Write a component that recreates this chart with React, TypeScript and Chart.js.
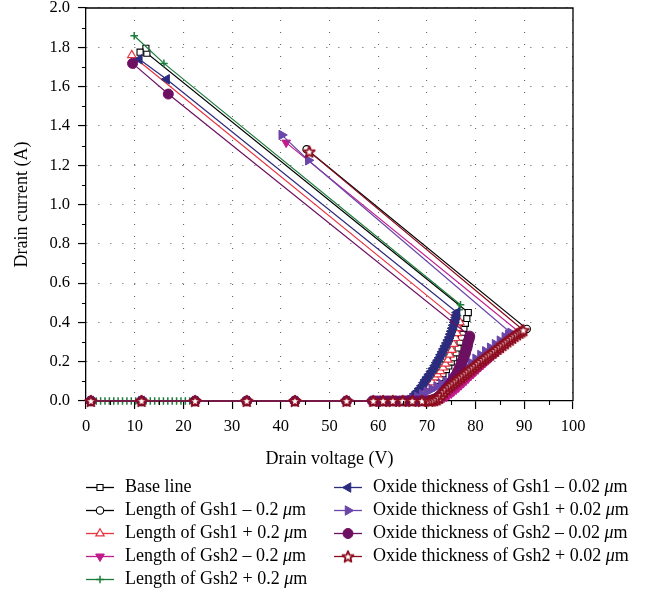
import React, { useEffect, useRef } from 'react';
import { Chart, registerables } from 'chart.js';

Chart.register(...registerables);

const SERIF = "'Liberation Serif', 'Times New Roman', 'DejaVu Serif', serif";

// Axis ticks
const xTickValues = [0, 10, 20, 30, 40, 50, 60, 70, 80, 90, 100];
const yTickValues = [0, 0.2, 0.4, 0.6, 0.8, 1.0, 1.2, 1.4, 1.6, 1.8, 2.0];

// Off-state part of the sweep shared by most runs (drain current stays at zero)
const offStateV = [1.0, 11.4, 22.4, 33.0, 42.9, 53.5];
const offStateI = [0, 0, 0, 0, 0, 0];

// Base line
const baseLineV = [59.0, 60.5, 62.0, 63.5, 65.0, 66.0, 67.0, 68.0, 69.0, 70.0, 71.0, 72.0, 72.7, 73.3, 74.0, 74.5, 75.0, 75.5, 76.0, 76.4, 76.8, 77.1, 77.4, 77.6, 77.9, 78.2, 78.5, 12.5, 12.3, 11.1];
const baseLineI = [0, 0, 0, 0, 0, 0.003, 0.01, 0.025, 0.045, 0.065, 0.085, 0.105, 0.12, 0.14, 0.16, 0.178, 0.198, 0.22, 0.245, 0.27, 0.30, 0.325, 0.35, 0.37, 0.395, 0.42, 0.45, 1.77, 1.795, 1.775];

// Length of Gsh1 - 0.2 um
const gsh1ShortV = [59.0, 61.0, 63.0, 65.0, 67.0, 69.0, 71.0, 71.5, 72.0, 72.5, 73.0, 73.5, 74.0, 74.5, 75.0, 75.5, 76.0, 76.5, 77.0, 77.5, 78.0, 78.5, 79.0, 79.5, 80.0, 80.5, 81.0, 81.5, 82.0, 82.5, 83.0, 83.5, 84.0, 84.5, 85.0, 85.5, 86.0, 86.5, 87.0, 87.5, 88.0, 88.5, 89.0, 89.5, 90.0, 90.5, 45.3];
const gsh1ShortI = [0, 0, 0, 0, 0, 0, 0, 0.004, 0.012, 0.02, 0.03, 0.04, 0.05, 0.061, 0.072, 0.082, 0.093, 0.103, 0.113, 0.123, 0.133, 0.143, 0.153, 0.163, 0.173, 0.183, 0.193, 0.202, 0.212, 0.221, 0.231, 0.24, 0.25, 0.26, 0.27, 0.279, 0.289, 0.298, 0.308, 0.317, 0.327, 0.336, 0.345, 0.352, 0.36, 0.367, 1.281];

// Length of Gsh1 + 0.2 um
const gsh1LongV = [59.0, 60.5, 62.0, 63.5, 65.0, 66.0, 67.0, 68.0, 69.0, 69.9, 70.5, 71.1, 71.7, 72.2, 72.8, 73.3, 73.8, 74.3, 74.7, 75.1, 75.5, 75.9, 76.2, 76.5, 76.8, 9.4];
const gsh1LongI = [0, 0, 0, 0, 0, 0.003, 0.01, 0.025, 0.04, 0.056, 0.075, 0.095, 0.12, 0.135, 0.152, 0.17, 0.19, 0.21, 0.235, 0.26, 0.29, 0.32, 0.345, 0.37, 0.40, 1.76];

// Length of Gsh2 - 0.2 um
const gsh2ShortV = [59.0, 61.0, 63.0, 65.0, 67.0, 69.0, 71.0, 71.5, 72.0, 72.5, 73.0, 73.5, 74.0, 74.5, 75.0, 75.5, 76.0, 76.5, 77.0, 77.5, 78.0, 78.5, 79.0, 79.5, 80.0, 80.5, 81.0, 81.5, 82.0, 82.5, 83.0, 83.5, 84.0, 84.5, 85.0, 85.5, 86.0, 86.5, 87.0, 87.5, 88.0, 88.5, 89.0, 41.1];
const gsh2ShortI = [0, 0, 0, 0, 0, 0, 0, 0.001, 0.003, 0.006, 0.01, 0.016, 0.022, 0.03, 0.038, 0.048, 0.058, 0.069, 0.08, 0.091, 0.103, 0.115, 0.127, 0.138, 0.15, 0.161, 0.173, 0.184, 0.196, 0.207, 0.218, 0.229, 0.24, 0.251, 0.262, 0.273, 0.284, 0.295, 0.306, 0.316, 0.327, 0.338, 0.35, 1.315];

// Length of Gsh2 + 0.2 um (finer steps in the first part of the sweep)
const gsh2LongV = [1.2, 2.1, 3.0, 3.9, 4.8, 5.7, 6.6, 7.5, 8.4, 9.3, 10.2, 11.1, 12.3, 13.2, 14.1, 15.0, 15.9, 16.8, 17.7, 18.6, 19.5, 20.4, 21.3, 32.2, 42.3, 52.8, 58.7, 60.0, 61.5, 63.0, 64.5, 66.0, 66.5, 67.2, 67.9, 68.6, 69.3, 70.0, 70.6, 71.3, 72.0, 72.7, 73.4, 74.0, 74.6, 75.1, 75.5, 75.9, 76.3, 76.6, 76.9, 16.0, 9.9];
const gsh2LongI = [0, 0, 0, 0, 0, 0, 0, 0, 0, 0, 0, 0, 0, 0, 0, 0, 0, 0, 0, 0, 0, 0, 0, 0, 0, 0, 0, 0, 0, 0, 0, 0, 0.005, 0.02, 0.04, 0.06, 0.08, 0.1, 0.12, 0.145, 0.17, 0.2, 0.235, 0.27, 0.305, 0.335, 0.365, 0.4, 0.435, 0.465, 0.49, 1.718, 1.859];

// Oxide thickness of Gsh1 - 0.02 um
const oxide1ThinV = [59.0, 60.5, 62.0, 63.5, 64.5, 65.5, 65.9, 66.2, 66.6, 67.0, 67.5, 68.0, 68.5, 69.0, 69.4, 69.7, 70.1, 70.5, 70.9, 71.3, 71.7, 72.0, 72.3, 72.6, 72.9, 73.2, 73.5, 73.8, 74.1, 74.4, 74.7, 74.9, 75.1, 75.3, 75.5, 75.7, 75.9, 76.0, 76.1, 76.2, 16.55, 10.95];
const oxide1ThinI = [0, 0, 0, 0, 0, 0, 0.004, 0.008, 0.015, 0.022, 0.035, 0.048, 0.063, 0.078, 0.093, 0.107, 0.121, 0.135, 0.15, 0.165, 0.18, 0.195, 0.207, 0.22, 0.235, 0.25, 0.265, 0.28, 0.295, 0.31, 0.325, 0.34, 0.355, 0.37, 0.385, 0.4, 0.413, 0.425, 0.437, 0.45, 1.637, 1.739];

// Oxide thickness of Gsh1 + 0.02 um
const oxide1ThickV = [59.0, 61.0, 63.0, 65.0, 66.0, 67.0, 68.0, 69.0, 70.0, 71.0, 72.0, 73.0, 74.0, 75.0, 76.0, 77.0, 78.0, 79.0, 80.0, 81.0, 82.0, 83.0, 84.0, 85.0, 86.0, 86.7, 87.2, 45.65, 40.2];
const oxide1ThickI = [0, 0, 0, 0, 0.003, 0.011, 0.022, 0.034, 0.047, 0.06, 0.073, 0.087, 0.102, 0.118, 0.136, 0.155, 0.175, 0.195, 0.215, 0.234, 0.253, 0.271, 0.289, 0.307, 0.325, 0.337, 0.347, 1.225, 1.354];

// Oxide thickness of Gsh2 - 0.02 um
const oxide2ThinV = [58.8, 59.5, 60.2, 60.9, 61.6, 62.3, 63.0, 63.7, 64.4, 65.1, 65.8, 66.5, 67.2, 67.9, 68.6, 69.3, 70.0, 70.5, 71.0, 71.4, 71.8, 72.2, 72.5, 72.9, 73.2, 73.6, 73.9, 74.3, 74.6, 75.0, 75.3, 75.6, 75.9, 76.2, 76.4, 76.7, 76.9, 77.1, 77.3, 77.5, 77.7, 77.9, 78.0, 78.2, 78.3, 78.4, 78.5, 78.7, 78.8, 16.9, 9.56];
const oxide2ThinI = [0, 0, 0, 0, 0, 0, 0, 0, 0, 0, 0, 0, 0, 0, 0, 0, 0, 0.002, 0.004, 0.008, 0.012, 0.018, 0.025, 0.033, 0.042, 0.052, 0.062, 0.073, 0.084, 0.095, 0.107, 0.118, 0.13, 0.143, 0.155, 0.168, 0.18, 0.193, 0.205, 0.218, 0.23, 0.243, 0.255, 0.268, 0.28, 0.293, 0.305, 0.318, 0.33, 1.562, 1.718];

// Oxide thickness of Gsh2 + 0.02 um
const oxide2ThickV = [59.0, 61.0, 63.0, 65.0, 67.0, 69.0, 70.5, 71.0, 71.5, 72.0, 72.5, 73.0, 73.5, 74.0, 74.5, 75.0, 75.5, 76.0, 76.5, 77.0, 77.5, 78.0, 78.5, 79.0, 79.5, 80.0, 80.5, 81.0, 81.5, 82.0, 82.5, 83.0, 83.5, 84.0, 84.5, 85.0, 85.5, 86.0, 86.5, 87.0, 87.5, 88.0, 88.5, 89.0, 89.4, 89.8, 45.85];
const oxide2ThickI = [0, 0, 0, 0, 0, 0, 0, 0.002, 0.004, 0.008, 0.016, 0.03, 0.045, 0.058, 0.07, 0.08, 0.09, 0.1, 0.11, 0.12, 0.13, 0.14, 0.15, 0.16, 0.17, 0.18, 0.19, 0.2, 0.209, 0.218, 0.228, 0.237, 0.246, 0.255, 0.265, 0.274, 0.284, 0.293, 0.303, 0.312, 0.321, 0.33, 0.339, 0.347, 0.354, 0.36, 1.269];

type Series = {
  label: string;
  v: number[];
  i: number[];
  withOffState: boolean;
  color: string;
  style: 'rect' | 'circle' | 'triangle' | 'cross' | 'star';
  rot: number;
  r: number;
  fill: string;
  pw: number;
};

const SERIES: Series[] = [
  { label: 'Base line', v: baseLineV, i: baseLineI, withOffState: true, color: '#000000', style: 'rect', rot: 0, r: 4.3, fill: '#ffffff', pw: 1.1 },
  { label: 'Length of Gsh1 – 0.2 μm', v: gsh1ShortV, i: gsh1ShortI, withOffState: true, color: '#000000', style: 'circle', rot: 0, r: 3.7, fill: '#ffffff', pw: 1.1 },
  { label: 'Length of Gsh1 + 0.2 μm', v: gsh1LongV, i: gsh1LongI, withOffState: true, color: '#e8333f', style: 'triangle', rot: 0, r: 4.8, fill: '#ffffff', pw: 1.2 },
  { label: 'Length of Gsh2 – 0.2 μm', v: gsh2ShortV, i: gsh2ShortI, withOffState: true, color: '#c21b8b', style: 'triangle', rot: 180, r: 5, fill: '#c21b8b', pw: 1 },
  { label: 'Length of Gsh2 + 0.2 μm', v: gsh2LongV, i: gsh2LongI, withOffState: false, color: '#1c7d3b', style: 'cross', rot: 0, r: 3.8, fill: '#1c7d3b', pw: 1.5 },
  { label: 'Oxide thickness of Gsh1 – 0.02 μm', v: oxide1ThinV, i: oxide1ThinI, withOffState: true, color: '#2c2c7e', style: 'triangle', rot: -90, r: 5.5, fill: '#2c2c7e', pw: 1 },
  { label: 'Oxide thickness of Gsh1 + 0.02 μm', v: oxide1ThickV, i: oxide1ThickI, withOffState: true, color: '#6a45aa', style: 'triangle', rot: 90, r: 5.5, fill: '#6a45aa', pw: 1 },
  { label: 'Oxide thickness of Gsh2 – 0.02 μm', v: oxide2ThinV, i: oxide2ThinI, withOffState: true, color: '#6d1061', style: 'circle', rot: 0, r: 5, fill: '#6d1061', pw: 1 },
  { label: 'Oxide thickness of Gsh2 + 0.02 μm', v: oxide2ThickV, i: oxide2ThickI, withOffState: true, color: '#8d0c1d', style: 'star', rot: 0, r: 5.5, fill: '#ffffff', pw: 1.8 },
];

const LEGEND_COLUMNS = [
  { x: 86, items: [0, 1, 2, 3, 4] },
  { x: 334, items: [5, 6, 7, 8] },
];
const LEGEND_TOP = 487;
const LEGEND_ROW = 23;

function makeStar(color: string): HTMLCanvasElement {
  const c = document.createElement('canvas');
  c.width = 14;
  c.height = 14;
  const g = c.getContext('2d')!;
  g.beginPath();
  for (let k = 0; k < 10; k++) {
    const rr = k % 2 === 0 ? 5.8 : 2.6;
    const a = -Math.PI / 2 + (k * Math.PI) / 5;
    const px = 7 + rr * Math.cos(a);
    const py = 7.5 + rr * Math.sin(a);
    if (k === 0) g.moveTo(px, py);
    else g.lineTo(px, py);
  }
  g.closePath();
  g.fillStyle = '#ffffff';
  g.fill();
  g.lineWidth = 1.8;
  g.lineJoin = 'round';
  g.strokeStyle = color;
  g.stroke();
  return c;
}

function drawMarker(ctx: CanvasRenderingContext2D, s: Series, x: number, y: number, star: HTMLCanvasElement) {
  if (s.style === 'star') {
    ctx.drawImage(star, x - star.width / 2, y - star.height / 2);
    return;
  }
  ctx.save();
  ctx.lineWidth = s.pw;
  ctx.strokeStyle = s.color;
  ctx.fillStyle = s.fill;
  ctx.beginPath();
  if (s.style === 'rect') {
    const h = s.r * Math.SQRT1_2;
    ctx.rect(x - h, y - h, 2 * h, 2 * h);
    ctx.fill();
    ctx.stroke();
  } else if (s.style === 'circle') {
    ctx.arc(x, y, s.r, 0, Math.PI * 2);
    ctx.fill();
    ctx.stroke();
  } else if (s.style === 'triangle') {
    let a = (s.rot * Math.PI) / 180;
    ctx.moveTo(x + Math.sin(a) * s.r, y - Math.cos(a) * s.r);
    a += (2 * Math.PI) / 3;
    ctx.lineTo(x + Math.sin(a) * s.r, y - Math.cos(a) * s.r);
    a += (2 * Math.PI) / 3;
    ctx.lineTo(x + Math.sin(a) * s.r, y - Math.cos(a) * s.r);
    ctx.closePath();
    ctx.fill();
    ctx.stroke();
  } else if (s.style === 'cross') {
    ctx.moveTo(x, y - s.r);
    ctx.lineTo(x, y + s.r);
    ctx.moveTo(x - s.r, y);
    ctx.lineTo(x + s.r, y);
    ctx.stroke();
  }
  ctx.restore();
}

function drawLabel(ctx: CanvasRenderingContext2D, text: string, x: number, y: number) {
  const upright = `18px ${SERIF}`;
  const italic = `italic 18px ${SERIF}`;
  ctx.font = upright;
  const k = text.indexOf('μ');
  if (k < 0) {
    ctx.fillText(text, x, y);
    return;
  }
  const before = text.slice(0, k);
  const after = text.slice(k + 1);
  ctx.fillText(before, x, y);
  let w = ctx.measureText(before).width;
  ctx.font = italic;
  ctx.fillText('μ', x + w, y);
  w += ctx.measureText('μ').width;
  ctx.font = upright;
  ctx.fillText(after, x + w, y);
}

export default function App() {
  const ref = useRef<HTMLCanvasElement>(null);

  useEffect(() => {
    const canvas = ref.current;
    if (!canvas) return;
    const star = makeStar(SERIES[8].color);

    const frame = {
      id: 'frameAndMinorTicks',
      afterDraw(chart: any) {
        const { ctx, chartArea: a, scales } = chart;
        ctx.save();
        ctx.strokeStyle = '#000';
        ctx.lineWidth = 1.3;
        ctx.beginPath();
        ctx.moveTo(a.left, a.top);
        ctx.lineTo(a.right, a.top);
        ctx.lineTo(a.right, a.bottom);
        ctx.stroke();
        ctx.lineWidth = 1.1;
        ctx.beginPath();
        for (let k = 0; k < xTickValues.length - 1; k++) {
          const px = Math.round(scales.x.getPixelForValue((xTickValues[k] + xTickValues[k + 1]) / 2)) + 0.5;
          ctx.moveTo(px, a.bottom);
          ctx.lineTo(px, a.bottom + 4);
        }
        for (let k = 0; k < yTickValues.length - 1; k++) {
          const py = Math.round(scales.y.getPixelForValue((yTickValues[k] + yTickValues[k + 1]) / 2)) + 0.5;
          ctx.moveTo(a.left, py);
          ctx.lineTo(a.left - 4, py);
        }
        ctx.stroke();
        ctx.restore();
      },
    };

    const legend = {
      id: 'columnLegend',
      afterDraw(chart: any) {
        const ctx: CanvasRenderingContext2D = chart.ctx;
        ctx.save();
        ctx.textBaseline = 'middle';
        ctx.textAlign = 'left';
        ctx.fillStyle = '#000';
        LEGEND_COLUMNS.forEach((col) => {
          col.items.forEach((idx, row) => {
            const s = SERIES[idx];
            const y = LEGEND_TOP + row * LEGEND_ROW;
            ctx.strokeStyle = s.color;
            ctx.lineWidth = 1.3;
            ctx.beginPath();
            ctx.moveTo(col.x, y + 0.5);
            ctx.lineTo(col.x + 28, y + 0.5);
            ctx.stroke();
            drawMarker(ctx, s, col.x + 14, y + 0.5, star);
            ctx.fillStyle = '#000';
            drawLabel(ctx, s.label, col.x + 39, y);
          });
        });
        ctx.restore();
      },
    };

    const datasets = SERIES.map((s, idx) => {
      const v = s.withOffState ? [...offStateV, ...s.v] : s.v;
      const i = s.withOffState ? [...offStateI, ...s.i] : s.i;
      return {
        label: s.label,
        data: v.map((x, k) => ({ x, y: i[k] })),
        showLine: true,
        borderColor: s.color,
        borderWidth: 1.2,
        backgroundColor: s.fill,
        pointStyle: s.style === 'star' ? star : s.style,
        pointRotation: s.rot,
        pointRadius: s.r,
        pointHoverRadius: s.r,
        pointBackgroundColor: s.fill,
        pointBorderColor: s.color,
        pointBorderWidth: s.pw,
        tension: 0,
        clip: false as const,
        order: SERIES.length - idx,
      };
    });

    const tickFont = { family: SERIF, size: 16.5 };
    const titleFont = { family: SERIF, size: 18 };

    const chart = new Chart(canvas, {
      type: 'scatter',
      data: { datasets: datasets as any },
      options: {
        animation: false,
        responsive: false,
        devicePixelRatio: 1,
        events: [],
        layout: { padding: { left: 0, top: 8, right: 80, bottom: 124 } },
        plugins: { legend: { display: false }, tooltip: { enabled: false } },
        scales: {
          x: {
            type: 'linear',
            min: 0,
            max: 100,
            afterBuildTicks: (scale: any) => {
              scale.ticks = xTickValues.map((value) => ({ value }));
            },
            afterFit: (scale: any) => {
              scale.height = 72;
              scale.paddingLeft = 0;
              scale.paddingRight = 0;
            },
            ticks: { font: tickFont, color: '#000', padding: 8, maxRotation: 0, autoSkip: false },
            grid: { color: '#666', lineWidth: 1.1, drawTicks: true, tickLength: 8, tickColor: '#000', tickWidth: 1.2 },
            border: { display: true, color: '#000', width: 1.3, dash: [1.1, 10.9] },
            title: { display: true, text: 'Drain voltage (V)', font: titleFont, color: '#000', padding: { top: 0, bottom: 3 } },
          },
          y: {
            type: 'linear',
            min: 0,
            max: 2,
            afterBuildTicks: (scale: any) => {
              scale.ticks = yTickValues.map((value) => ({ value }));
            },
            afterFit: (scale: any) => {
              scale.width = 86;
              scale.paddingTop = 0;
              scale.paddingBottom = 0;
            },
            ticks: { font: tickFont, color: '#000', padding: 8, callback: (v: any) => Number(v).toFixed(1) },
            grid: { color: '#666', lineWidth: 1.1, drawTicks: true, tickLength: 8, tickColor: '#000', tickWidth: 1.2 },
            border: { display: true, color: '#000', width: 1.3, dash: [1.1, 10.9] },
            title: { display: true, text: 'Drain current (A)', font: titleFont, color: '#000', padding: { top: 11, bottom: 0 } },
          },
        },
      },
      plugins: [frame, legend],
    });

    return () => chart.destroy();
  }, []);

  return (
    <div style={{ position: 'absolute', left: 0, top: 0, width: 653, height: 597 }}>
      <canvas ref={ref} width={653} height={597} style={{ display: 'block', width: 653, height: 597 }} />
    </div>
  );
}
